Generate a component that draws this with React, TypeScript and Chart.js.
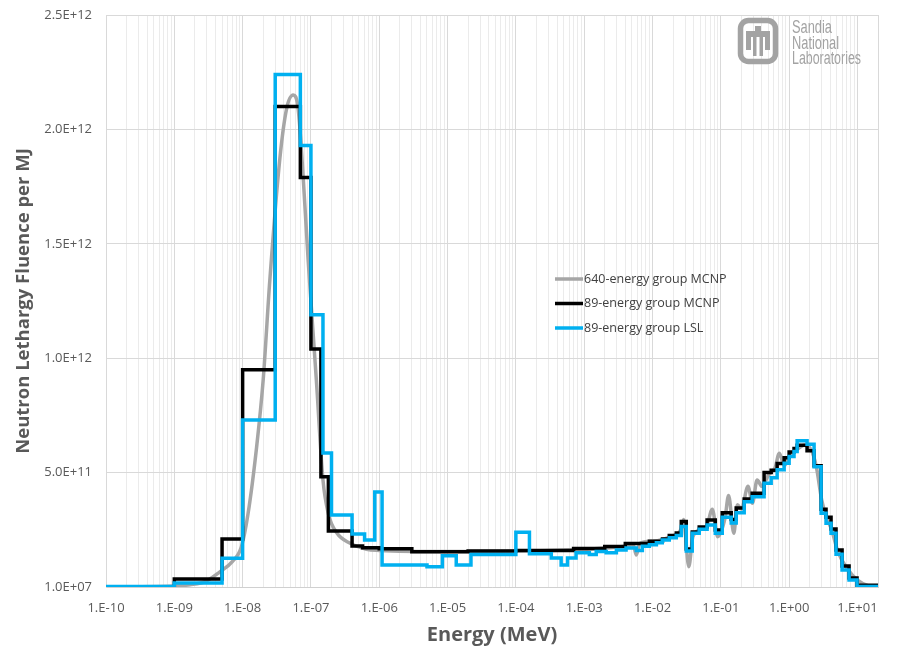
import React, { useEffect, useRef } from "react";
import { Chart, registerables } from "chart.js";

Chart.register(...registerables);

// ---------- DATA ----------
// 640-energy group MCNP (gray) : energy points (MeV) and lethargy fluence per MJ
const mcnp640Energy = [
  1e-10, 1e-9, 1.7e-9, 2.9e-9, 4.6e-9, 7e-9, 9.6e-9, 1.2e-8, 1.6e-8, 2e-8, 2.5e-8, 3.5e-8, 4.4e-8,
  5.5e-8, 6.5e-8, 7.7e-8, 9.1e-8, 1.2e-7, 1.5e-7, 1.8e-7, 2.4e-7, 3.7e-7, 6.5e-7, 1e-6, 1e-5, 1e-4,
  1e-3, 4e-3, 5.2e-3, 5.8e-3, 6.5e-3, 1e-2, 2e-2, 2.6e-2, 2.85e-2, 3.4e-2, 3.9e-2, 5e-2, 6.3e-2,
  7.5e-2, 9e-2, 0.115, 0.13, 0.155, 0.175, 0.2, 0.25, 0.29, 0.34, 0.4, 0.5, 0.62, 0.72, 0.85, 1.0,
  1.3, 1.65, 2.1, 2.5, 3.0, 3.5, 4.2, 5.2, 7, 10, 15, 20,
];
const mcnp640Flux = [
  1e7, 4e9, 1.0e10, 2.5e10, 6.5e10, 1.1e11, 1.76e11, 3.2e11, 6.1e11, 9.05e11, 1.34e12, 1.87e12, 2.09e12,
  2.15e12, 2.09e12, 1.79e12, 1.43e12, 9.05e11, 4.68e11, 3.2e11, 2.36e11, 1.92e11, 1.65e11, 1.6e11,
  1.55e11, 1.57e11, 1.65e11, 1.78e11, 1.85e11, 1.4e11, 1.9e11, 2.0e11, 2.25e11, 2.5e11, 2.95e11,
  8.9e10, 2.2e11, 2.5e11, 2.7e11, 3.4e11, 2.2e11, 3.0e11, 4.0e11, 2.35e11, 3.6e11, 3.4e11, 4.4e11,
  3.66e11, 4.68e11, 4.4e11, 4.9e11, 5.2e11, 5.85e11, 5.3e11, 5.7e11, 6.0e11, 6.2e11, 6.0e11, 5.26e11,
  3.8e11, 3.07e11, 2.49e11, 1.53e11, 8.3e10, 3e10, 4e9, 1e9,
];

// 89-energy group MCNP (black) : group edges (MeV) and group values
const mcnp89Edges = [
  1e-10, 1e-9, 5e-9, 1e-8, 3e-8, 7e-8, 1e-7, 1.4e-7, 1.8e-7, 4e-7, 5.7e-7, 1e-6, 3e-6, 2e-5, 1e-4,
  7e-4, 2e-3, 4e-3, 9e-3, 1.4e-2, 1.76e-2, 2.23e-2, 2.64e-2, 3.12e-2, 3.82e-2, 4.83e-2, 6.3e-2,
  8.3e-2, 0.105, 0.142, 0.168, 0.22, 0.288, 0.43, 0.546, 0.668, 0.846, 1.0, 1.18, 1.31, 1.83, 2.32,
  2.94, 3.47, 4.11, 4.86, 5.96, 7.54, 9.86, 20,
];
const mcnp89Flux = [
  1e9, 3.5e10, 2.1e11, 9.5e11, 2.1e12, 1.79e12, 1.04e12, 4.82e11, 2.45e11, 1.79e11, 1.72e11, 1.67e11,
  1.54e11, 1.57e11, 1.6e11, 1.68e11, 1.77e11, 1.9e11, 2.0e11, 2.1e11, 2.25e11, 2.36e11, 2.86e11,
  1.66e11, 2.4e11, 2.62e11, 2.93e11, 2.49e11, 3.25e11, 2.95e11, 3.45e11, 3.85e11, 4.1e11, 5.0e11,
  5.1e11, 5.4e11, 5.65e11, 5.9e11, 6.05e11, 6.2e11, 5.95e11, 5.3e11, 3.4e11, 3.05e11, 2.54e11,
  1.62e11, 9.2e10, 3.9e10, 8e9,
];

// 89-energy group LSL (cyan) : group edges (MeV) and group values
const lsl89Edges = [
  1e-10, 1e-9, 5e-9, 1e-8, 3e-8, 7e-8, 1e-7, 1.5e-7, 2e-7, 4e-7, 6.1e-7, 8.6e-7, 1.1e-6, 5e-6, 8.4e-6,
  1.34e-5, 2.2e-5, 1e-4, 1.58e-4, 3.3e-4, 4.6e-4, 5.7e-4, 7.6e-4, 1.19e-3, 1.5e-3, 2.1e-3, 2.96e-3,
  4.1e-3, 5.8e-3, 7.1e-3, 9e-3, 1.14e-2, 1.39e-2, 1.76e-2, 2.23e-2, 2.64e-2, 3.12e-2, 3.82e-2,
  4.83e-2, 6.3e-2, 8.3e-2, 0.105, 0.142, 0.168, 0.22, 0.288, 0.43, 0.546, 0.668, 0.846, 1.0, 1.18,
  1.31, 1.83, 2.32, 2.94, 3.47, 4.11, 4.86, 5.96, 7.54, 9.86, 20,
];
const lsl89Flux = [
  2e9, 1.8e10, 1.26e11, 7.3e11, 2.24e12, 1.93e12, 1.19e12, 5.86e11, 3.15e11, 2.32e11, 2.05e11,
  4.15e11, 9.6e10, 8.9e10, 1.37e11, 9.6e10, 1.42e11, 2.39e11, 1.45e11, 1.27e11, 9.6e10, 1.27e11,
  1.5e11, 1.42e11, 1.55e11, 1.5e11, 1.62e11, 1.7e11, 1.6e11, 1.78e11, 1.85e11, 1.93e11, 2.05e11,
  2.15e11, 2.25e11, 2.64e11, 1.57e11, 2.35e11, 2.52e11, 2.71e11, 2.35e11, 3.05e11, 2.8e11, 3.24e11,
  3.73e11, 3.95e11, 4.54e11, 4.78e11, 5.12e11, 5.41e11, 5.7e11, 5.92e11, 6.39e11, 6.24e11, 5.26e11,
  3.22e11, 2.79e11, 2.35e11, 1.43e11, 7.4e10, 3.1e10, 2e9,
];

const seriesLabels = ["640-energy group MCNP", "89-energy group MCNP", "89-energy group LSL"];
const seriesColors = ["#a6a6a6", "#000000", "#00b0f0"];

const xMin = 1e-10;
const xMax = 20;
const xDecades = [-10, -9, -8, -7, -6, -5, -4, -3, -2, -1, 0, 1];
const yTickValues = [1e7, 5e11, 1e12, 1.5e12, 2e12, 2.5e12];
const yMin = 1e7;
const yMax = 2.5e12;

// ---------- HELPERS ----------
const isDecade = (v: number) => {
  const l = Math.log10(v);
  return Math.abs(l - Math.round(l)) < 1e-6;
};
const fmtX = (v: number) => {
  const e = Math.round(Math.log10(v));
  return "1.E" + (e < 0 ? "-" : "+") + String(Math.abs(e)).padStart(2, "0");
};
const fmtY = (v: number) => {
  const e = Math.floor(Math.log10(v) + 1e-9);
  const m = v / Math.pow(10, e);
  return m.toFixed(1) + "E+" + String(e).padStart(2, "0");
};
const stepPoints = (edges: number[], flux: number[]) => {
  const pts = flux.map((v, i) => ({ x: edges[i], y: v }));
  pts.push({ x: edges[edges.length - 1], y: flux[flux.length - 1] });
  return pts;
};

const xGridValues: number[] = [];
xDecades.forEach((d) => {
  for (let m = 1; m <= 9; m++) {
    const v = Number((m * Math.pow(10, d)).toPrecision(6));
    if (v >= xMin && v <= xMax) xGridValues.push(v);
  }
});

const legendPlugin = {
  id: "insideLegend",
  afterDraw(chart: any) {
    const ctx = chart.ctx;
    const x0 = 555;
    const y0 = 279;
    ctx.save();
    chart.data.datasets.forEach((ds: any, i: number) => {
      const y = y0 + i * 24.5;
      ctx.strokeStyle = ds.borderColor;
      ctx.lineWidth = 3.5;
      ctx.lineCap = "butt";
      ctx.beginPath();
      ctx.moveTo(x0, y);
      ctx.lineTo(x0 + 28, y);
      ctx.stroke();
      ctx.fillStyle = "#404040";
      ctx.font = '12.5px "Open Sans", sans-serif';
      ctx.textBaseline = "middle";
      ctx.textAlign = "left";
      ctx.fillText(ds.label, x0 + 29, y);
    });
    ctx.restore();
  },
};

const logoPlugin = {
  id: "logo",
  afterDraw(chart: any) {
    const ctx = chart.ctx;
    const g = "#a3a3a3";
    ctx.save();
    ctx.strokeStyle = g;
    ctx.fillStyle = g;
    ctx.lineWidth = 5.5;
    ctx.beginPath();
    (ctx as any).roundRect(740.5, 20.5, 35, 41, 8);
    ctx.stroke();
    // thunderbird
    ctx.fillRect(755, 26, 6, 6);
    ctx.fillRect(746, 31, 24, 6);
    ctx.fillRect(746, 31, 5, 19);
    ctx.fillRect(765, 31, 5, 19);
    ctx.fillRect(753, 37, 3.5, 19);
    ctx.fillRect(759.5, 37, 3.5, 19);
    ctx.font = '18px "Liberation Sans Narrow", "Liberation Sans", sans-serif';
    ctx.textBaseline = "alphabetic";
    ctx.textAlign = "left";
    ctx.fillText("Sandia", 792, 33, 40);
    ctx.fillText("National", 792, 48.5, 47);
    ctx.fillText("Laboratories", 792, 64, 69);
    ctx.restore();
  },
};

export default function App() {
  const ref = useRef<HTMLCanvasElement>(null);

  useEffect(() => {
    document.body.style.margin = "0";
    Chart.defaults.font.family = '"Open Sans", sans-serif';
    const canvas = ref.current;
    if (!canvas) return;

    const chart = new Chart(canvas, {
      type: "line",
      data: {
        datasets: [
          {
            label: seriesLabels[0],
            data: mcnp640Energy.map((e, i) => ({ x: e, y: mcnp640Flux[i] })),
            borderColor: seriesColors[0],
            borderWidth: 3.5,
            pointRadius: 0,
            cubicInterpolationMode: "monotone",
            fill: false,
            order: 3,
          },
          {
            label: seriesLabels[1],
            data: stepPoints(mcnp89Edges, mcnp89Flux),
            borderColor: seriesColors[1],
            borderWidth: 3.5,
            pointRadius: 0,
            stepped: true,
            borderJoinStyle: "miter",
            fill: false,
            order: 2,
          },
          {
            label: seriesLabels[2],
            data: stepPoints(lsl89Edges, lsl89Flux),
            borderColor: seriesColors[2],
            borderWidth: 3.5,
            pointRadius: 0,
            stepped: true,
            borderJoinStyle: "miter",
            fill: false,
            order: 1,
          },
        ] as any,
      },
      options: {
        responsive: false,
        animation: false,
        layout: { padding: { top: 15, right: 24, left: 0, bottom: 0 } },
        plugins: {
          legend: { display: false },
          tooltip: { enabled: false },
        },
        scales: {
          x: {
            type: "logarithmic",
            min: xMin,
            max: xMax,
            afterBuildTicks: (s: any) => {
              s.ticks = xGridValues.map((v) => ({ value: v }));
            },
            afterFit: (s: any) => {
              s.height = 63;
              s.paddingLeft = 0;
              s.paddingRight = 0;
            },
            ticks: {
              autoSkip: false,
              maxRotation: 0,
              minRotation: 0,
              padding: 13,
              color: "#595959",
              font: { size: 13 },
              callback: (v: any) => (isDecade(Number(v)) && Number(v) <= 10 ? fmtX(Number(v)) : ""),
            },
            grid: {
              drawTicks: false,
              color: (c: any) => {
                const v = c.tick ? c.tick.value : 1;
                return isDecade(v) || v === xMax ? "#d9d9d9" : "#ebebeb";
              },
              lineWidth: 1,
            },
            border: { display: true, color: "#d0d0d0", width: 1 },
            title: {
              display: true,
              text: "Energy (MeV)",
              color: "#595959",
              font: { size: 20, weight: "bold" },
              padding: { top: 0, bottom: 3 },
            },
          },
          y: {
            type: "linear",
            min: yMin,
            max: yMax,
            afterBuildTicks: (s: any) => {
              s.ticks = yTickValues.map((v) => ({ value: v }));
            },
            afterFit: (s: any) => {
              s.width = 106;
              s.paddingTop = 0;
              s.paddingBottom = 0;
            },
            ticks: {
              padding: 14,
              color: "#595959",
              font: { size: 13 },
              callback: (v: any) => fmtY(Number(v)),
            },
            grid: { drawTicks: false, color: "#d9d9d9", lineWidth: 1 },
            border: { display: true, color: "#d9d9d9", width: 1 },
            title: {
              display: true,
              text: "Neutron Lethargy Fluence per MJ",
              color: "#595959",
              font: { size: 18.5, weight: "bold" },
              padding: { top: 13, bottom: 0 },
            },
          },
        },
      } as any,
      plugins: [legendPlugin, logoPlugin],
    });

    return () => chart.destroy();
  }, []);

  return (
    <div style={{ width: 902, height: 650 }}>
      <canvas ref={ref} width={902} height={650} style={{ display: "block" }} />
    </div>
  );
}
